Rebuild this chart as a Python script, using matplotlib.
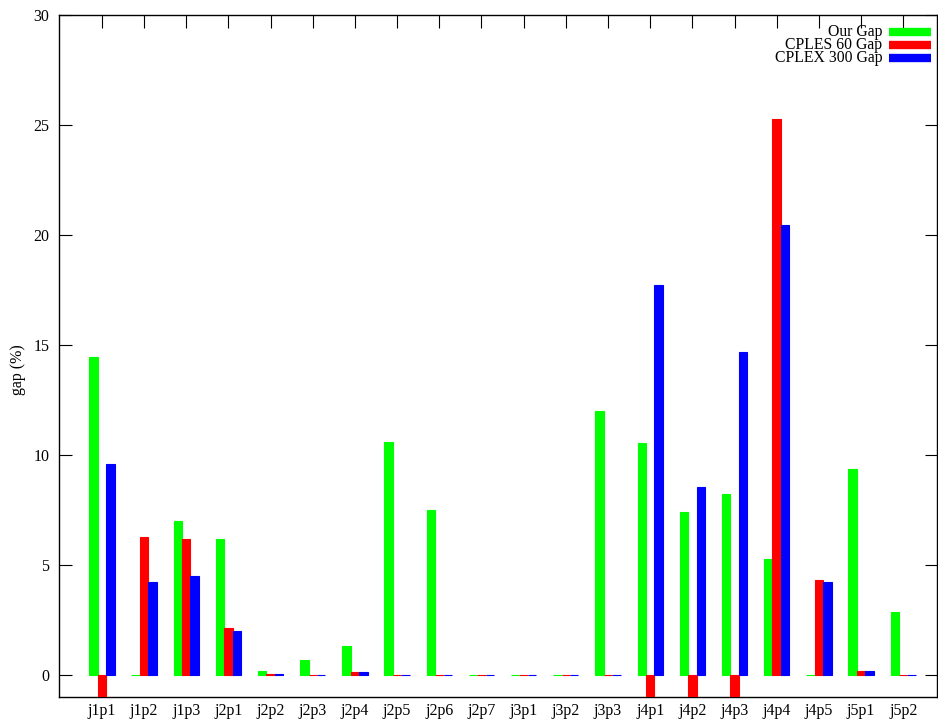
import numpy as np
import matplotlib; matplotlib.use("Agg")
import matplotlib.pyplot as plt

plt.rcParams["font.family"] = ["Liberation Serif", "DejaVu Serif"]

cases = ["j1p1", "j1p2", "j1p3", "j2p1", "j2p2", "j2p3", "j2p4", "j2p5", "j2p6", "j2p7",
         "j3p1", "j3p2", "j3p3", "j4p1", "j4p2", "j4p3", "j4p4", "j4p5", "j5p1", "j5p2"]
our_gap = [14.45, 0.02, 7.01, 6.18, 0.20, 0.69, 1.32, 10.59, 7.51, 0.02,
           0.02, 0.02, 12.03, 10.56, 7.40, 8.23, 5.27, 0.02, 9.38, 2.88]
cplex60 = [-1, 6.30, 6.18, 2.15, 0.07, 0.03, 0.15, 0.02, 0.02, 0.02,
           0.02, 0.02, 0.02, -1, -1, -1, 25.28, 4.32, 0.20, 0.02]
cplex300 = [9.58, 4.24, 4.49, 2.01, 0.05, 0.03, 0.15, 0.02, 0.02, 0.02,
            0.02, 0.02, 0.02, 17.75, 8.56, 14.70, 20.44, 4.23, 0.20, 0.02]
series = [("Our Gap", our_gap, "#00ff00"),
          ("CPLES 60 Gap", cplex60, "#ff0000"),
          ("CPLEX 300 Gap", cplex300, "#0000ff")]

fig = plt.figure(figsize=(9.38, 7.22), dpi=100)
ax = fig.add_axes([0.0632, 0.0342, 0.9357, 0.945])
x = np.arange(len(cases))
w = 0.2
for i, (name, vals, col) in enumerate(series):
    ax.bar(x + (i - 1) * w, vals, width=w, color=col, edgecolor=col, linewidth=0.8,
           zorder=2 + i)

ax.set_xlim(-1.01, 19.8)
ax.set_ylim(-1, 30)
ax.set_yticks(range(0, 31, 5))
ax.tick_params(axis="y", direction="in", length=9, right=True, labelsize=11.5, pad=7)
ax.set_xticks(x)
ax.set_xticklabels(cases)
ax.tick_params(axis="x", direction="in", length=9, bottom=False, top=True, labelsize=11.5, pad=4)
ax.set_ylabel("gap (%)", fontsize=11.5)
ax.yaxis.set_label_coords(-0.038, 0.48)
for sp in ax.spines.values():
    sp.set_linewidth(1.0)

# legend, gnuplot style: right-aligned text then a thick sample line
for i, (name, vals, col) in enumerate(series):
    yy = 0.9755 - i * 0.0192
    ax.text(0.9377, yy, name, transform=ax.transAxes, ha="right", va="center", fontsize=11.3)
    ax.plot([0.9457, 0.9936], [yy, yy], transform=ax.transAxes, color=col, lw=6,
            solid_capstyle="butt", clip_on=False)

fig.savefig("out.png", dpi=100)
